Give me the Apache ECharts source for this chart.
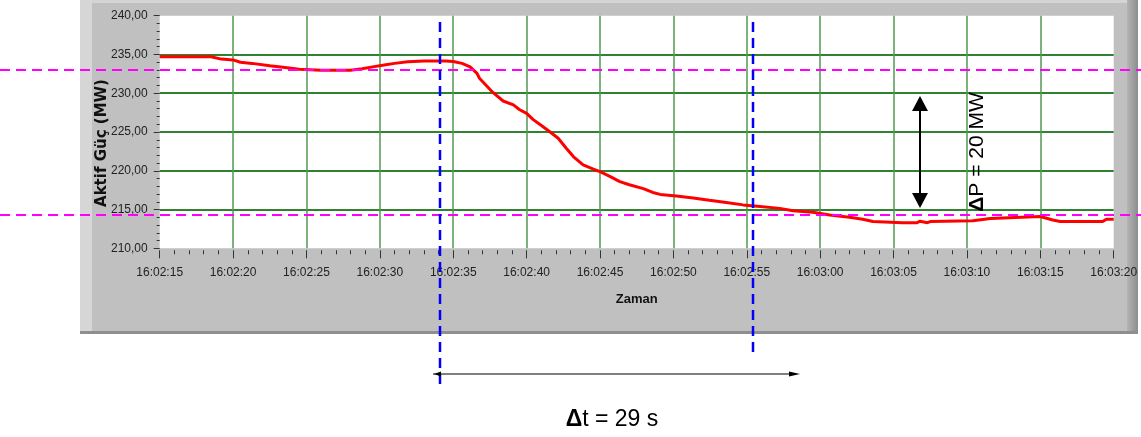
<!DOCTYPE html>
<html>
<head>
<meta charset="utf-8">
<script src="https://cdn.jsdelivr.net/npm/echarts@6/dist/echarts.min.js"></script>
<style>
html,body{margin:0;padding:0;background:#fff;}
#c{width:1141px;height:437px;}
</style>
</head>
<body>
<div id="c"></div>
<script>
// --- data (seconds after 16:02:15, active power MW) ---
const timeSec = [0, 3.5, 4.2, 5.0, 5.5, 6.3, 7.5, 8.4, 9.5, 11.0, 13.0, 13.8, 14.5, 15.3, 16.0, 16.9, 18.0, 19.5, 20.0, 20.6, 21.15, 21.6, 21.8, 22.3, 22.7, 23.4, 24.1, 24.5, 25.0, 25.45, 26.1, 26.6, 27.15, 27.7, 28.2, 28.85, 29.55, 30.0, 30.7, 31.35, 32.0, 32.95, 33.6, 34.1, 35.2, 36.35, 37.45, 38.6, 39.75, 40.9, 42.25, 43.15, 44.5, 45.65, 47.0, 47.9, 48.6, 50.6, 51.6, 51.8, 52.3, 52.5, 55.4, 56.6, 60.0, 60.85, 61.35, 64.25, 64.5, 65.0];
const powerMW = [234.7, 234.7, 234.4, 234.3, 234.0, 233.85, 233.55, 233.35, 233.1, 232.95, 232.95, 233.15, 233.4, 233.65, 233.85, 234.05, 234.15, 234.15, 234.1, 233.85, 233.4, 232.6, 231.9, 230.9, 230.1, 229.0, 228.5, 227.9, 227.4, 226.6, 225.7, 225.0, 224.2, 222.9, 221.8, 220.75, 220.2, 219.9, 219.25, 218.6, 218.2, 217.7, 217.2, 216.95, 216.75, 216.5, 216.2, 215.9, 215.6, 215.4, 215.15, 214.85, 214.65, 214.3, 214.0, 213.75, 213.45, 213.3, 213.3, 213.5, 213.3, 213.45, 213.55, 213.85, 214.1, 213.65, 213.45, 213.45, 213.75, 213.75];
const xTickLabels = ['16:02:15','16:02:20','16:02:25','16:02:30','16:02:35','16:02:40','16:02:45','16:02:50','16:02:55','16:03:00','16:03:05','16:03:10','16:03:15','16:03:20'];
const yTickLabels = ['210,00','215,00','220,00','225,00','230,00','235,00','240,00'];
const refLevelsMW = [233.0, 214.3];      // magenta dashed reference levels
const markerTimesSec = [19.1, 40.4];     // blue dashed time markers
const deltaPText = 'P = 20 MW';
const deltaTText = 't = 29 s';
const yAxisTitle = 'Aktif Güç (MW)';
const xAxisTitle = 'Zaman';

const chart = echarts.init(document.getElementById('c'), null, {renderer:'canvas'});
const labelFont = {fontFamily:'Liberation Sans, Arial, sans-serif', fontSize:12, color:'#222'};

const option = {
  backgroundColor:'#ffffff',
  animation:false,
  grid:{left:159.7, right:27.3, top:15.7, bottom:188.7, show:true, backgroundColor:'#ffffff', borderWidth:0, containLabel:false},
  xAxis:{
    type:'value', min:0, max:65, interval:5,
    offset:2,
    axisLine:{show:false},
    axisTick:{show:true, length:8, lineStyle:{color:'#333', width:1}},
    minorTick:{show:true, splitNumber:5, length:4, lineStyle:{color:'#333', width:1}},
    axisLabel:Object.assign({margin:16, formatter:(v)=>xTickLabels[Math.round(v/5)]}, labelFont),
    splitLine:{show:true, showMinLine:false, showMaxLine:false, lineStyle:{color:'#4f9a4f', width:1.5}},
    name:xAxisTitle, nameLocation:'middle', nameGap:43,
    nameTextStyle:{fontFamily:'Liberation Sans, Arial, sans-serif', fontWeight:'bold', fontSize:13, color:'#111'}
  },
  yAxis:{
    type:'value', min:210, max:240, interval:5,
    offset:2,
    axisLine:{show:false},
    axisTick:{show:true, length:6, lineStyle:{color:'#333', width:1}},
    minorTick:{show:true, splitNumber:5, length:3, lineStyle:{color:'#333', width:1}},
    axisLabel:Object.assign({margin:10, formatter:(v)=>yTickLabels[Math.round((v-210)/5)]}, labelFont),
    splitLine:{show:true, showMinLine:false, showMaxLine:false, lineStyle:{color:'#2f822f', width:2}}
  },
  series:[{
    type:'line', showSymbol:false, symbol:'none',
    data: timeSec.map((t,i)=>[t, powerMW[i]]),
    lineStyle:{color:'#ff0000', width:3},
    z:5
  }]
};
chart.setOption(option);

function px(t, v){ return chart.convertToPixel({gridIndex:0}, [t, v]); }

const graphics = [];
// LabVIEW-like gray panel behind the chart
graphics.push({type:'rect', z:-10, silent:true, shape:{x:80, y:0, width:1058, height:334}, style:{fill:'#c0c0c0'}});
graphics.push({type:'rect', z:-9, silent:true, shape:{x:80, y:0, width:1058, height:3}, style:{fill:'#d4d4d4'}});
graphics.push({type:'rect', z:-9, silent:true, shape:{x:80, y:0, width:12, height:334}, style:{fill:'#d6d6d6'}});
graphics.push({type:'rect', z:-9, silent:true, shape:{x:1127, y:0, width:11, height:334}, style:{fill:new echarts.graphic.LinearGradient(0,0,1,0,[{offset:0,color:'#b4b4b4'},{offset:1,color:'#8c8c8c'}])}});
graphics.push({type:'rect', z:-9, silent:true, shape:{x:80, y:331, width:1058, height:3}, style:{fill:'#8f8f8f'}});

// y axis title (rotated)
graphics.push({type:'text', z:10, silent:true, x:102, y:143, rotation:Math.PI/2,
  style:{text:yAxisTitle, fill:'#111', font:'bold 15px DejaVu Sans, sans-serif', align:'center', verticalAlign:'middle'}});

// magenta reference levels across full width
refLevelsMW.forEach(v=>{
  const y = Math.round(px(0, v)[1]);
  graphics.push({type:'line', z:20, silent:true, shape:{x1:0, y1:y, x2:1141, y2:y}, style:{stroke:'#ff00ff', lineWidth:2, lineDash:[10,6]}});
});
// blue time markers
const markerBottoms = [384, 353];
markerTimesSec.forEach((t,i)=>{
  const x = Math.round(px(t, 240)[0]);
  graphics.push({type:'line', z:21, silent:true, shape:{x1:x, y1:22, x2:x, y2:markerBottoms[i]}, style:{stroke:'#0000ff', lineWidth:2.5, lineDash:[10,6]}});
});

// horizontal time-span arrow
graphics.push({type:'line', z:22, silent:true, shape:{x1:433, y1:374, x2:795, y2:374}, style:{stroke:'#000', lineWidth:1}});
graphics.push({type:'polygon', z:22, silent:true, shape:{points:[[800,374],[789,371.5],[789,376.5]]}, style:{fill:'#000'}});
graphics.push({type:'polygon', z:22, silent:true, shape:{points:[[434,374],[441,371.5],[441,376.5]]}, style:{fill:'#000'}});

// vertical double arrow (ΔP)
graphics.push({type:'line', z:22, silent:true, shape:{x1:920, y1:108, x2:920, y2:195}, style:{stroke:'#000', lineWidth:2}});
graphics.push({type:'polygon', z:22, silent:true, shape:{points:[[920,96],[912,111],[928,111]]}, style:{fill:'#000'}});
graphics.push({type:'polygon', z:22, silent:true, shape:{points:[[920,208],[912,193],[928,193]]}, style:{fill:'#000'}});

// ΔP text, rotated
graphics.push({type:'text', z:23, silent:true, x:977, y:152, rotation:Math.PI/2,
  style:{text:'{b|Δ}'+deltaPText, fill:'#000', font:'21px Liberation Sans, Arial, sans-serif', align:'center', verticalAlign:'middle',
    rich:{b:{fontWeight:'bold', fontSize:21, fontFamily:'Liberation Sans, Arial, sans-serif', fill:'#000'}}}});
// Δt text
graphics.push({type:'text', z:23, silent:true, x:612, y:420,
  style:{text:'{b|Δ}'+deltaTText, fill:'#000', font:'23px Liberation Sans, Arial, sans-serif', align:'center', verticalAlign:'middle',
    rich:{b:{fontWeight:'bold', fontSize:23, fontFamily:'Liberation Sans, Arial, sans-serif', fill:'#000'}}}});

chart.setOption({graphic:graphics});
</script>
</body>
</html>
